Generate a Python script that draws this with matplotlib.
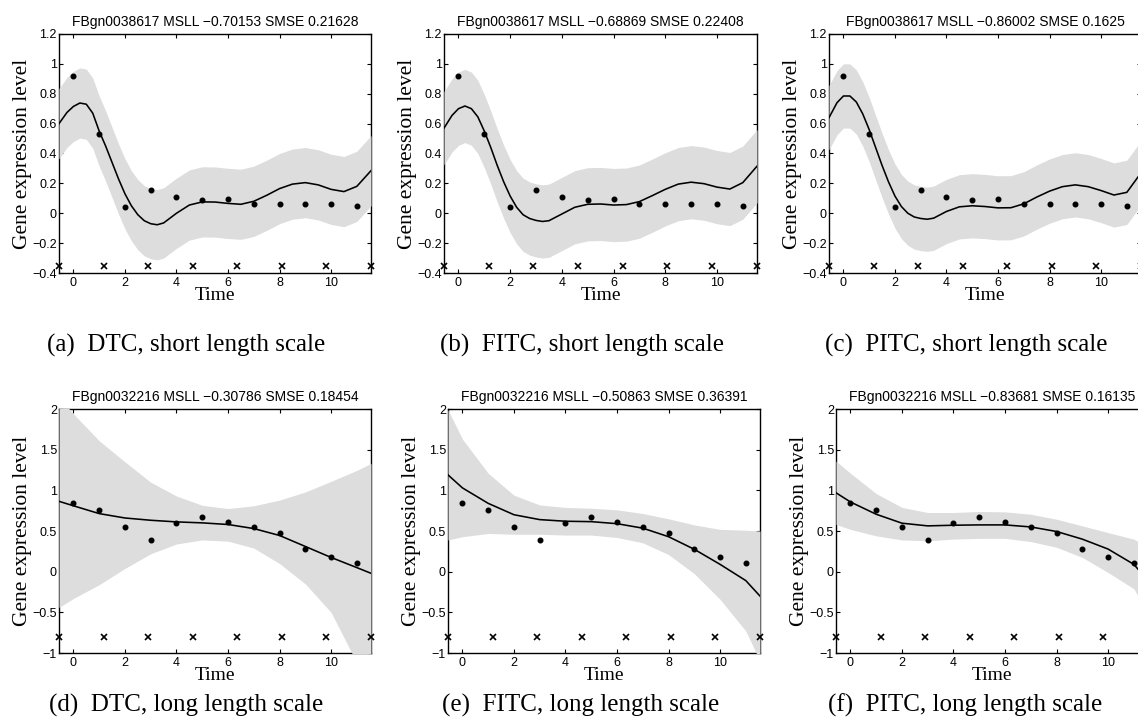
import numpy as np
import matplotlib
matplotlib.use('Agg')
import matplotlib.pyplot as plt
from matplotlib.ticker import FuncFormatter

W, H = 1138, 726
SANS = 'Liberation Sans'
SERIF = 'Liberation Serif'
BAND_COLOR = '#dddddd'

# observed expression (same for every panel of a row)
TIME = [0, 1, 2, 3, 4, 5, 6, 7, 8, 9, 10, 11]
OBS_TOP = [0.92, 0.53, 0.045, 0.155, 0.11, 0.09, 0.093, 0.065, 0.06, 0.06, 0.065, 0.05]
OBS_BOT = [0.845, 0.757, 0.545, 0.39, 0.603, 0.672, 0.61, 0.548, 0.473, 0.278, 0.175, 0.11]

# inducing inputs
INDUCING = [-0.56, 1.17, 2.9, 4.63, 6.36, 8.08, 9.81, 11.54]
INDUCING_Y_TOP = -0.35
INDUCING_Y_BOT = -0.8

# predictive mean
GRID_TOP = [-0.56, -0.25, 0, 0.25, 0.5, 0.75, 1, 1.25, 1.5, 1.75, 2, 2.25, 2.5, 2.75,
            3, 3.25, 3.5, 4, 4.5, 5, 5.5, 6, 6.5, 7, 7.5, 8, 8.5, 9, 9.5, 10, 10.5, 11, 11.55]
MEAN_A = [0.60, 0.675, 0.715, 0.738, 0.73, 0.67, 0.55, 0.45, 0.34, 0.23, 0.13, 0.05, -0.01, -0.05,
          -0.07, -0.077, -0.065, 0.0, 0.055, 0.076, 0.075, 0.066, 0.06, 0.08, 0.12, 0.165, 0.195,
          0.205, 0.19, 0.16, 0.145, 0.18, 0.285]
MEAN_B = [0.57, 0.655, 0.70, 0.718, 0.70, 0.645, 0.55, 0.44, 0.32, 0.21, 0.115, 0.04, -0.01, -0.035,
          -0.048, -0.055, -0.05, -0.005, 0.04, 0.06, 0.062, 0.055, 0.058, 0.078, 0.118, 0.16, 0.195,
          0.208, 0.198, 0.175, 0.162, 0.205, 0.315]
MEAN_C = [0.64, 0.74, 0.785, 0.785, 0.745, 0.665, 0.56, 0.44, 0.32, 0.21, 0.115, 0.045, 0.0, -0.025,
          -0.035, -0.04, -0.033, 0.012, 0.043, 0.05, 0.045, 0.036, 0.037, 0.063, 0.108, 0.148, 0.178,
          0.19, 0.178, 0.152, 0.122, 0.14, 0.27]
# two standard deviations (roughly constant for the short length scale)
TWO_SD_TOP = [0.235, 0.245, 0.215]

GRID_BOT = [-0.56, 0, 1, 2, 3, 4, 5, 6, 7, 8, 9, 10, 11, 11.55]
MEAN_D = [0.865, 0.81, 0.714, 0.66, 0.632, 0.612, 0.60, 0.58, 0.53, 0.445, 0.31, 0.175, 0.05, -0.02]
UPPER_D = [2.15, 1.94, 1.61, 1.35, 1.10, 0.93, 0.816, 0.776, 0.81, 0.88, 0.98, 1.11, 1.245, 1.33]
LOWER_D = [-0.44, -0.33, -0.16, 0.04, 0.22, 0.34, 0.39, 0.375, 0.29, 0.10, -0.15, -0.50, -1.12, -1.4]
MEAN_E = [1.19, 1.03, 0.84, 0.70, 0.64, 0.62, 0.615, 0.59, 0.535, 0.43, 0.275, 0.09, -0.11, -0.30]
UPPER_E = [1.99, 1.63, 1.21, 0.94, 0.82, 0.79, 0.78, 0.76, 0.715, 0.65, 0.575, 0.52, 0.51, 0.50]
LOWER_E = [0.39, 0.43, 0.47, 0.46, 0.46, 0.45, 0.45, 0.42, 0.355, 0.21, -0.025, -0.34, -0.73, -1.10]
MEAN_F = [0.97, 0.857, 0.706, 0.596, 0.563, 0.571, 0.575, 0.575, 0.55, 0.494, 0.40, 0.278, 0.09, -0.11]
UPPER_F = [1.36, 1.21, 0.96, 0.79, 0.727, 0.727, 0.74, 0.735, 0.706, 0.645, 0.563, 0.48, 0.40, 0.30]
LOWER_F = [0.58, 0.52, 0.44, 0.39, 0.38, 0.40, 0.41, 0.41, 0.37, 0.30, 0.175, -0.01, -0.21, -0.52]

TITLES = ['FBgn0038617 MSLL \u22120.70153 SMSE 0.21628',
          'FBgn0038617 MSLL \u22120.68869 SMSE 0.22408',
          'FBgn0038617 MSLL \u22120.86002 SMSE 0.1625',
          'FBgn0032216 MSLL \u22120.30786 SMSE 0.18454',
          'FBgn0032216 MSLL \u22120.50863 SMSE 0.36391',
          'FBgn0032216 MSLL \u22120.83681 SMSE 0.16135']
CAPTIONS = ['(a)  DTC, short length scale', '(b)  FITC, short length scale',
            '(c)  PITC, short length scale', '(d)  DTC, long length scale',
            '(e)  FITC, long length scale', '(f)  PITC, long length scale']

XTICKS = [0, 2, 4, 6, 8, 10]
YTICKS_TOP = [-0.4, -0.2, 0, 0.2, 0.4, 0.6, 0.8, 1, 1.2]
YTICKS_BOT = [-1, -0.5, 0, 0.5, 1, 1.5, 2]
XLIM = (-0.56, 11.55)

# axes boxes in pixels: left, top, right, bottom
BOXES = [(59, 34, 371, 273), (444, 34, 757, 273), (829, 34, 1141, 273),
         (59, 409, 371, 653), (448, 409, 760, 653), (836, 409, 1148, 653)]
CAPTION_POS = [(186, 345), (582, 345), (966, 345), (186, 705), (581, 705), (965, 705)]


def px_rect(box):
    left, top, right, bottom = box
    return [left / W, 1 - bottom / H, (right - left) / W, (bottom - top) / H]


def fmt(v, pos=None):
    return '{:g}'.format(round(v, 3)).replace('-', '\u2212')


def draw_panel(fig, box, grid, mean, lower, upper, obs, ind_y, yticks, title):
    ax = fig.add_axes(px_rect(box))
    ax.fill_between(grid, lower, upper, color=BAND_COLOR, lw=0, zorder=2.6)
    ax.plot(grid, mean, color='k', lw=1.15, zorder=3)
    ax.plot(TIME, obs, 'o', color='k', ms=3.3, zorder=4)
    ax.plot(INDUCING, [ind_y] * len(INDUCING), 'x', color='k', ms=4, mew=1.2,
            zorder=5, clip_on=False)
    ax.set_xlim(*XLIM)
    ax.set_ylim(yticks[0], yticks[-1])
    ax.set_xticks(XTICKS)
    ax.set_yticks(yticks)
    ax.xaxis.set_major_formatter(FuncFormatter(fmt))
    ax.yaxis.set_major_formatter(FuncFormatter(fmt))
    ax.tick_params(direction='in', top=True, right=True, length=3, width=0.8,
                   labelsize=9, pad=3)
    ax.tick_params(axis='y', pad=1.5)
    for lab in ax.get_xticklabels() + ax.get_yticklabels():
        lab.set_family(SANS)
    for sp in ax.spines.values():
        sp.set_linewidth(1.0)
    ax.set_title(title, fontsize=10, family=SANS, pad=6)
    ax.set_xlabel('Time', fontsize=14, family=SERIF, labelpad=-1.5)
    ax.set_ylabel('Gene expression level', fontsize=15.5, family=SERIF, labelpad=0)
    return ax


def main():
    fig = plt.figure(figsize=(W / 100, H / 100), dpi=100)
    top_means = [MEAN_A, MEAN_B, MEAN_C]
    bot = [(MEAN_D, LOWER_D, UPPER_D), (MEAN_E, LOWER_E, UPPER_E), (MEAN_F, LOWER_F, UPPER_F)]
    for i in range(6):
        if i < 3:
            mean = np.array(top_means[i])
            sd = TWO_SD_TOP[i]
            draw_panel(fig, BOXES[i], GRID_TOP, mean, mean - sd, mean + sd,
                       OBS_TOP, INDUCING_Y_TOP, YTICKS_TOP, TITLES[i])
        else:
            mean, lower, upper = bot[i - 3]
            draw_panel(fig, BOXES[i], GRID_BOT, mean, lower, upper,
                       OBS_BOT, INDUCING_Y_BOT, YTICKS_BOT, TITLES[i])
        cx, cy = CAPTION_POS[i]
        fig.text(cx / W, 1 - cy / H, CAPTIONS[i], ha='center', va='center',
                 fontsize=18, family=SERIF)
    fig.savefig('out.png', dpi=100)


if __name__ == '__main__':
    main()
